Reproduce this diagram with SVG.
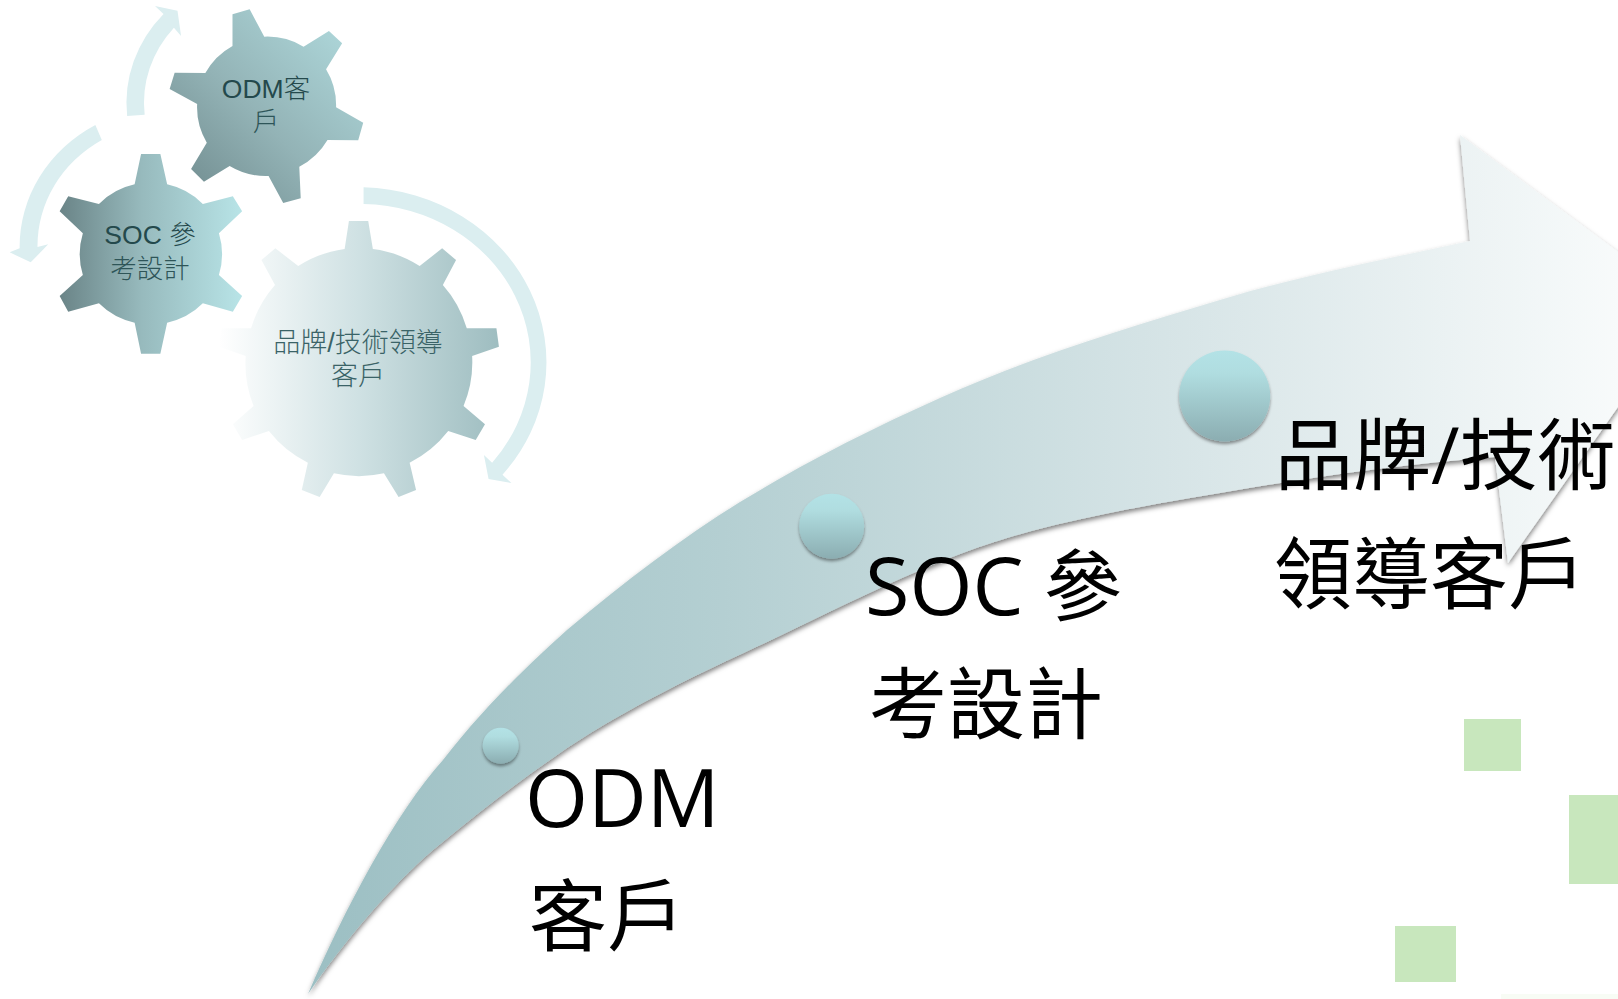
<svg xmlns="http://www.w3.org/2000/svg" width="1618" height="999" viewBox="0 0 1618 999">
<style>
.big{font-family:"Open Sans","Noto Sans CJK TC",sans-serif;font-size:78px;fill:#000}
.lat{font-size:81px}
.small{font-family:"Liberation Sans","Noto Sans CJK TC",sans-serif;font-size:26.5px;font-weight:300;text-anchor:middle}
.wide{font-size:27px}
.ring{fill:#dbeef0}
.dot{fill:url(#dotG);filter:url(#dotS)}
.sq{fill:#c8e7bd}
</style>
<defs>
<linearGradient id="flowG" gradientUnits="userSpaceOnUse" x1="308" y1="0" x2="1690" y2="0">
<stop offset="0" stop-color="#9cbfc3"/><stop offset="0.3" stop-color="#b4cfd2"/><stop offset="0.65" stop-color="#d9e6e8"/><stop offset="1" stop-color="#fdfefe"/>
</linearGradient>
<linearGradient id="dotG" x1="0" y1="0" x2="0" y2="1">
<stop offset="0" stop-color="#b3e2e6"/><stop offset="0.25" stop-color="#b0dde0"/><stop offset="1" stop-color="#8badb1"/>
</linearGradient>
<linearGradient id="g1" x1="0" y1="1" x2="1" y2="0">
<stop offset="0" stop-color="#6c878a"/><stop offset="0.45" stop-color="#93b3b6"/><stop offset="1" stop-color="#b3dee1"/>
</linearGradient>
<linearGradient id="g2" x1="0" y1="0" x2="1" y2="0">
<stop offset="0" stop-color="#6a8487"/><stop offset="0.45" stop-color="#97babd"/><stop offset="1" stop-color="#b8e4e7"/>
</linearGradient>
<linearGradient id="g3" x1="0" y1="0" x2="1" y2="0">
<stop offset="0" stop-color="#ffffff"/><stop offset="0.5" stop-color="#cfe1e3"/><stop offset="1" stop-color="#9ebdc0"/>
</linearGradient>
<filter id="flowS" x="-5%" y="-5%" width="110%" height="110%"><feDropShadow dx="0" dy="3" stdDeviation="2.5" flood-color="#000" flood-opacity="0.5"/></filter>
<filter id="dotS" x="-30%" y="-30%" width="160%" height="160%"><feDropShadow dx="0" dy="2.5" stdDeviation="1.5" flood-color="#000" flood-opacity="0.4"/></filter>
</defs>

<g id="background-squares">
<rect class="sq" x="1464" y="719" width="57" height="52"/>
<rect class="sq" x="1569" y="795" width="49" height="89"/>
<rect class="sq" x="1395" y="926" width="61" height="56"/>
<rect x="1501" y="994" width="117" height="5" fill="#f8fcf5"/>
</g>

<g id="flow-arrow">
<path fill="url(#flowG)" filter="url(#flowS)" d="M308 994C345 908 396 812 443 760C484 707 524 669 567 630C625 581 682 538 740 502C807 461 873 428 940 398C1033 356 1127 328 1220 300C1303 275 1387 259 1470 241L1460 135L1690 305L1508 563L1495 457C1403 464 1312 477 1220 493C1149 505 1078 517 1007 538C927 562 847 604 767 642C700 673 634 704 567 748C522 779 478 812 433 850C390 887 345 940 308 994Z"/>
</g>

<g id="gear-brand">
<path fill="url(#g3)" transform="scale(0.35714,0.33333)" d="M977 663L1031 663L1044 747A317 340 0 0 1 1175 798L1238 745L1277 780L1240 855A317 340 0 0 1 1307 985L1390 985L1397 1040L1322 1068A317 340 0 0 1 1298 1218L1358 1273L1332 1320L1255 1293A317 340 0 0 1 1147 1388L1165 1470L1116 1491L1075 1420A317 340 0 0 1 935 1420L895 1491L845 1470L862 1388A317 340 0 0 1 753 1293L678 1320L652 1273L710 1218A317 340 0 0 1 688 1068L613 1040L620 985L703 985A317 340 0 0 1 770 855L732 780L771 745L835 798A317 340 0 0 1 965 747Z"/>
<text class="small wide" x="358" y="352" fill="#3a6367">品牌/技術領導</text>
<text class="small wide" x="358" y="385" fill="#3a6367">客戶</text>
</g>
<g id="gear-soc">
<path fill="url(#g2)" transform="scale(0.35714,0.33333)" d="M395 462L449 462L468 553A200 214 0 0 1 568 612L652 589L678 634L613 700A200 214 0 0 1 613 825L678 888L652 935L568 910A200 214 0 0 1 468 968L449 1061L395 1061L377 968A200 214 0 0 1 277 910L191 935L167 888L232 825A200 214 0 0 1 232 700L167 634L191 589L277 612A200 214 0 0 1 377 553Z"/>
<text class="small" x="150" y="244" fill="#24494c">SOC 參</text>
<text class="small" x="150" y="278" fill="#2e5558">考設計</text>
</g>
<g id="gear-odm">
<path fill="url(#g1)" transform="scale(0.35714,0.33333)" d="M651 43L699 28L740 110A195 208 0 0 1 850 140L921 93L958 130L913 208A195 208 0 0 1 941 322L1017 368L1003 421L917 420A195 208 0 0 1 838 500L842 595L793 609L752 528A195 208 0 0 1 643 498L571 545L535 507L579 428A195 208 0 0 1 552 312L475 267L489 218L575 219A195 208 0 0 1 651 138Z"/>
<text class="small" x="266" y="98" fill="#24494c">ODM客</text>
<text class="small" x="266" y="131" fill="#2e5558">戶</text>
</g>

<g id="connectors">
<path class="ring" transform="scale(0.35714,0.33333)" d="M356 348A395 395 0 0 1 458 42L434 18L497 32L507 108L487 83A345 345 0 0 0 405 344Z"/>
<path class="ring" transform="scale(0.35714,0.33333)" d="M267 375A420 420 0 0 0 55 745L27 757L86 787L135 733L105 741A370 370 0 0 1 285 420Z"/>
<path class="ring" transform="scale(0.35714,0.33333)" d="M1018 562A527 525 0 0 1 1407 1424L1432 1449L1368 1437L1355 1365L1378 1388A477 475 0 0 0 1018 612Z"/>
</g>

<g id="stage-odm">
<circle class="dot" cx="500.7" cy="745.7" r="18"/>
<text class="big lat" x="525" y="827">ODM</text>
<text class="big" x="529" y="945">客戶</text>
</g>
<g id="stage-soc">
<circle class="dot" cx="831.7" cy="526.3" r="32.5"/>
<text class="big" x="865" y="615"><tspan class="lat">SOC</tspan> 參</text>
<text class="big" x="869" y="733">考設計</text>
</g>
<g id="stage-brand">
<circle class="dot" cx="1224.7" cy="396" r="45.5"/>
<text class="big" x="1275" y="484">品牌/技術</text>
<text class="big" x="1274" y="603">領導客戶</text>
</g>
</svg>
